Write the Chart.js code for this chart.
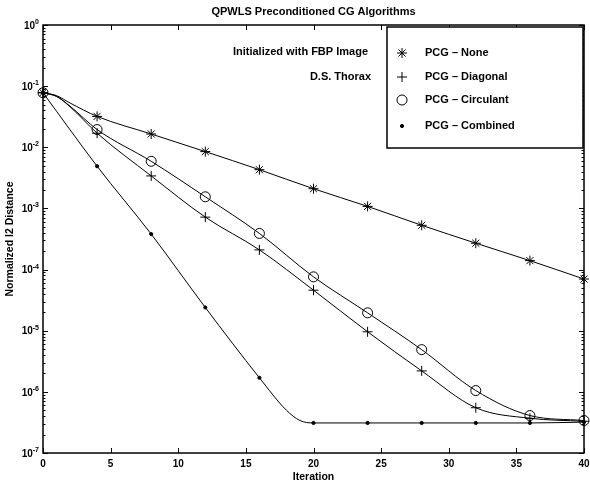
<!DOCTYPE html>
<html>
<head>
<meta charset="utf-8">
<script src="https://cdn.jsdelivr.net/npm/chart.js@4"></script>
<style>
	html, body { margin: 0; padding: 0; background: #fff; }
	#wrap { width: 590px; height: 485px; }
</style>
</head>
<body>
<div id="wrap"><canvas id="c" width="590" height="485"></canvas></div>
<script>
// values (markers every 4 iterations, a few extra points for curve shape)
const noneX = [0, 1, 2, 4, 8, 12, 16, 20, 24, 28, 32, 36, 40];
const noneY = [0.078, 0.07, 0.053, 0.032, 0.0165, 0.0085, 0.0043, 0.0021, 0.00108, 0.00053, 0.00027, 0.00014, 0.00007];

const diagX = [0, 1, 2, 4, 8, 12, 16, 20, 24, 28, 32, 36, 40];
const diagY = [0.078, 0.068, 0.046, 0.017, 0.0034, 0.00072, 0.00021, 0.000046, 0.0000096, 0.0000022, 0.00000055, 0.00000037, 0.00000033];

const circX = [0, 1, 2, 4, 8, 12, 16, 20, 24, 28, 32, 36, 40];
const circY = [0.078, 0.068, 0.047, 0.0195, 0.0059, 0.00155, 0.00039, 0.000076, 0.0000196, 0.0000049, 0.00000105, 0.00000041, 0.00000034];

const combX = [0, 4, 8, 12, 16, 18, 19, 20, 24, 28, 32, 36, 40];
const combY = [0.078, 0.0049, 0.00038, 0.000024, 0.0000017, 0.0000005, 0.00000034, 0.00000031, 0.00000031, 0.00000031, 0.00000031, 0.00000031, 0.00000032];

const seriesNames = ["PCG \u2013 None", "PCG \u2013 Diagonal", "PCG \u2013 Circulant", "PCG \u2013 Combined"];
const xTicks = [0, 5, 10, 15, 20, 25, 30, 35, 40];
const yExponents = [0, -1, -2, -3, -4, -5, -6, -7];
const notes = ["Initialized with FBP Image", "D.S. Thorax"];

const FONT = "'Liberation Sans', Arial, sans-serif";

const markerStyles = [
	{ style: "star", radius: 5, fill: false },
	{ style: "cross", radius: 5, fill: false },
	{ style: "circle", radius: 5, fill: false },
	{ style: "circle", radius: 1.6, fill: true },
];

function toPoints(xs, ys) {
	return xs.map((x, i) => ({ x: x, y: ys[i] }));
}

function makeDataset(label, xs, ys, m) {
	return {
		label: label,
		data: toPoints(xs, ys),
		borderColor: "#000",
		backgroundColor: m.fill ? "#000" : "rgba(0,0,0,0)",
		pointBorderColor: "#000",
		pointBackgroundColor: m.fill ? "#000" : "rgba(0,0,0,0)",
		borderWidth: 1,
		pointBorderWidth: 1,
		pointStyle: m.style,
		pointRadius: (ctx) => (ctx.raw && ctx.raw.x % 4 === 0 ? m.radius : 0),
		pointHoverRadius: 0,
		cubicInterpolationMode: "monotone",
		fill: false,
		clip: false,
	};
}

function drawPow(ctx, exp, right, y) {
	const supFont = "bold 7px " + FONT;
	ctx.font = supFont;
	const ew = ctx.measureText(String(exp)).width;
	ctx.font = "bold 10px " + FONT;
	const bw = ctx.measureText("10").width;
	ctx.textAlign = "left";
	ctx.textBaseline = "middle";
	ctx.fillText("10", right - ew - bw, y + 1);
	ctx.font = supFont;
	ctx.fillText(String(exp), right - ew, y - 3);
}

const framePlugin = {
	id: "frame",
	afterDraw(chart) {
		const ctx = chart.ctx;
		const a = chart.chartArea;
		const xs = chart.scales.x;
		const ys = chart.scales.y;
		ctx.save();
		ctx.fillStyle = "#000";
		ctx.strokeStyle = "#000";

		// title
		ctx.font = "bold 11px " + FONT;
		ctx.textAlign = "center";
		ctx.textBaseline = "middle";
		ctx.fillText("QPWLS Preconditioned CG Algorithms", (a.left + a.right) / 2, 12);

		// ticks
		ctx.lineWidth = 1;
		ctx.beginPath();
		xTicks.forEach((t) => {
			const px = Math.round(xs.getPixelForValue(t)) + 0.5;
			ctx.moveTo(px, a.bottom);
			ctx.lineTo(px, a.bottom - 5);
			ctx.moveTo(px, a.top);
			ctx.lineTo(px, a.top + 5);
		});
		yExponents.forEach((e) => {
			const py = Math.round(ys.getPixelForValue(Math.pow(10, e))) + 0.5;
			ctx.moveTo(a.left, py);
			ctx.lineTo(a.left + 5, py);
			ctx.moveTo(a.right, py);
			ctx.lineTo(a.right - 5, py);
			if (e > -7) {
				for (let k = 2; k <= 9; k++) {
					const my = Math.round(ys.getPixelForValue(k * Math.pow(10, e - 1))) + 0.5;
					ctx.moveTo(a.left, my);
					ctx.lineTo(a.left + 2.5, my);
					ctx.moveTo(a.right, my);
					ctx.lineTo(a.right - 2.5, my);
				}
			}
		});
		ctx.stroke();

		// frame
		ctx.lineWidth = 1.5;
		ctx.strokeRect(a.left, a.top, a.right - a.left, a.bottom - a.top);

		// x labels
		ctx.font = "bold 10px " + FONT;
		ctx.textAlign = "center";
		ctx.textBaseline = "middle";
		xTicks.forEach((t) => {
			ctx.fillText(String(t), xs.getPixelForValue(t), 464);
		});
		ctx.font = "bold 10.5px " + FONT;
		ctx.fillText("Iteration", (a.left + a.right) / 2, 477);

		// y labels
		yExponents.forEach((e) => {
			drawPow(ctx, e, 39, ys.getPixelForValue(Math.pow(10, e)));
		});
		ctx.save();
		ctx.translate(10, (a.top + a.bottom) / 2);
		ctx.rotate(-Math.PI / 2);
		ctx.font = "bold 10.5px " + FONT;
		ctx.textAlign = "center";
		ctx.textBaseline = "middle";
		ctx.fillText("Normalized l2 Distance", 0, 0);
		ctx.restore();

		// notes
		ctx.font = "bold 11px " + FONT;
		ctx.textAlign = "right";
		ctx.textBaseline = "middle";
		ctx.fillText(notes[0], 368, 52);
		ctx.fillText(notes[1], 371, 77);

		// legend box
		ctx.fillStyle = "#fff";
		ctx.fillRect(387, 27, 196, 121);
		ctx.lineWidth = 1.5;
		ctx.strokeRect(387, 27, 196, 121);
		const rows = [53, 77, 100, 126];
		seriesNames.forEach((name, i) => {
			const m = markerStyles[i];
			ctx.lineWidth = 1;
			ctx.strokeStyle = "#000";
			ctx.fillStyle = m.fill ? "#000" : "rgba(0,0,0,0)";
			Chart.helpers.drawPoint(ctx, {
				pointStyle: m.style,
				radius: m.radius,
				borderWidth: 1,
				rotation: 0,
			}, 402, rows[i]);
			ctx.fillStyle = "#000";
			ctx.font = "bold 11px " + FONT;
			ctx.textAlign = "left";
			ctx.textBaseline = "middle";
			ctx.fillText(name, 425, rows[i]);
		});
		ctx.restore();
	},
};

new Chart(document.getElementById("c"), {
	type: "line",
	data: {
		datasets: [
			makeDataset(seriesNames[0], noneX, noneY, markerStyles[0]),
			makeDataset(seriesNames[1], diagX, diagY, markerStyles[1]),
			makeDataset(seriesNames[2], circX, circY, markerStyles[2]),
			makeDataset(seriesNames[3], combX, combY, markerStyles[3]),
		],
	},
	options: {
		responsive: false,
		animation: false,
		layout: { padding: { left: 43, top: 25, right: 3, bottom: 32 } },
		plugins: { legend: { display: false }, tooltip: { enabled: false }, title: { display: false } },
		scales: {
			x: { type: "linear", min: 0, max: 40, display: false },
			y: { type: "logarithmic", min: 1e-7, max: 1, display: false },
		},
	},
	plugins: [framePlugin],
});
</script>
</body>
</html>
